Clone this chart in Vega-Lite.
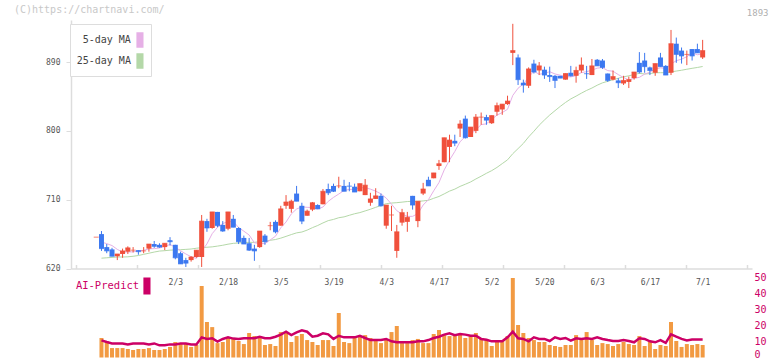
{
  "$schema": "https://vega.github.io/schema/vega-lite/v6.json",
  "width": 681,
  "height": 339,
  "autosize": "none",
  "padding": {"left": 71, "top": 20, "right": 20, "bottom": 2},
  "background": "white",
  "title": {"text": "(C)https://chartnavi.com/", "anchor": "start", "frame": "group", "dx": -57, "dy": 11, "offset": 4, "font": "DejaVu Sans Mono", "fontSize": 10, "fontWeight": "normal", "color": "#c8c8c8"},
  "config": {"view": {"stroke": null}, "axis": {"grid": false, "labelFont": "DejaVu Sans Mono", "labelFlush": false, "labelOverlap": false}},
  "data": {"values": [
    {"t":0,"d":"1/10","o":661,"h":661,"l":661,"c":661},
    {"t":1,"d":"1/14","o":665,"h":669,"l":643,"c":646,"m5":654.6,"m25":633.5,"v":12.2,"ai":10.7},
    {"t":2,"d":"1/15","o":648,"h":652,"l":640,"c":643,"m5":652.5,"m25":634,"v":10.1,"ai":9.7},
    {"t":3,"d":"1/16","o":645,"h":647,"l":636,"c":636,"m5":650,"m25":634.5,"v":5.9,"ai":8.8},
    {"t":4,"d":"1/17","o":636,"h":639,"l":631,"c":639,"m5":645,"m25":635,"v":5.9,"ai":8.8},
    {"t":5,"d":"1/20","o":639,"h":646,"l":634,"c":643,"m5":641.4,"m25":635,"v":5.9,"ai":8.8},
    {"t":6,"d":"1/21","o":642,"h":649,"l":639,"c":647,"m5":641.6,"m25":635.3,"v":5.3,"ai":8.2},
    {"t":7,"d":"1/22","o":644,"h":648,"l":641,"c":644,"m5":641.8,"m25":636,"v":4.7,"ai":8.8},
    {"t":8,"d":"1/23","o":644,"h":644,"l":638,"c":642,"m5":643,"m25":637,"v":5.3,"ai":8.8},
    {"t":9,"d":"1/24","o":643,"h":648,"l":640,"c":643,"m5":643.8,"m25":638.5,"v":5.3,"ai":8.8},
    {"t":10,"d":"1/27","o":646,"h":652,"l":642,"c":652,"m5":645.6,"m25":640,"v":5.9,"ai":8.2},
    {"t":11,"d":"1/28","o":652,"h":656,"l":647,"c":649,"m5":646,"m25":641.5,"v":4.7,"ai":8.8},
    {"t":12,"d":"1/29","o":651,"h":653,"l":647,"c":648,"m5":646.8,"m25":642.8,"v":4.7,"ai":7.6},
    {"t":13,"d":"1/30","o":648,"h":653,"l":644,"c":653,"m5":649,"m25":643.3,"v":5.3,"ai":7.6},
    {"t":14,"d":"1/31","o":657,"h":661,"l":650,"c":655,"m5":651.4,"m25":644,"v":6.6,"ai":8.2},
    {"t":15,"d":"2/3","o":651,"h":651,"l":632,"c":634,"m5":647.8,"m25":644.3,"v":9.7,"ai":8.2},
    {"t":16,"d":"2/4","o":640,"h":642,"l":626,"c":626,"m5":643.2,"m25":644.6,"v":8.4,"ai":8.8},
    {"t":17,"d":"2/5","o":631,"h":634,"l":622,"c":627,"m5":639,"m25":645,"v":9.0,"ai":8.8},
    {"t":18,"d":"2/6","o":631,"h":636,"l":629,"c":635,"m5":635.4,"m25":645.5,"v":6.6,"ai":8.2},
    {"t":19,"d":"2/7","o":635,"h":644,"l":634,"c":644,"m5":633.2,"m25":646.5,"v":7.8,"ai":8.2},
    {"t":20,"d":"2/10","o":635,"h":690,"l":622,"c":682,"m5":642.8,"m25":647.3,"v":44.7,"ai":12.6},
    {"t":21,"d":"2/12","o":682,"h":685,"l":668,"c":673,"m5":652.2,"m25":647.8,"v":22.2,"ai":11.6},
    {"t":22,"d":"2/13","o":673,"h":694,"l":672,"c":694,"m5":665.6,"m25":648.3,"v":19.0,"ai":12.0},
    {"t":23,"d":"2/14","o":694,"h":694,"l":674,"c":676,"m5":673.8,"m25":649.3,"v":9.0,"ai":9.9},
    {"t":24,"d":"2/17","o":677,"h":682,"l":668,"c":669,"m5":678.8,"m25":650.4,"v":9.7,"ai":11.6},
    {"t":25,"d":"2/18","o":672,"h":694,"l":670,"c":694,"m5":681.2,"m25":651.8,"v":12.2,"ai":12.6},
    {"t":26,"d":"2/19","o":685,"h":690,"l":674,"c":674,"m5":681.4,"m25":652.9,"v":11.6,"ai":11.8},
    {"t":27,"d":"2/20","o":673,"h":674,"l":652,"c":655,"m5":673.6,"m25":653.4,"v":10.3,"ai":11.6},
    {"t":28,"d":"2/21","o":660,"h":663,"l":652,"c":652,"m5":668.8,"m25":654.0,"v":8.4,"ai":12.0},
    {"t":29,"d":"2/25","o":653,"h":660,"l":643,"c":644,"m5":663.8,"m25":654.2,"v":15.3,"ai":12.0},
    {"t":30,"d":"2/26","o":646,"h":651,"l":630,"c":643,"m5":653.6,"m25":654.2,"v":13.4,"ai":12.0},
    {"t":31,"d":"2/27","o":648,"h":669,"l":647,"c":669,"m5":652.6,"m25":655.1,"v":12.2,"ai":13.0},
    {"t":32,"d":"2/28","o":663,"h":665,"l":651,"c":655,"m5":652.6,"m25":655.5,"v":7.8,"ai":12.0},
    {"t":33,"d":"3/3","o":676,"h":681,"l":670,"c":676,"m5":657.4,"m25":656.9,"v":8.4,"ai":12.0},
    {"t":34,"d":"3/4","o":681,"h":683,"l":666,"c":668,"m5":662.2,"m25":657.9,"v":7.2,"ai":13.0},
    {"t":35,"d":"3/5","o":676,"h":702,"l":676,"c":698,"m5":673.2,"m25":659.7,"v":15.9,"ai":14.3},
    {"t":36,"d":"3/6","o":702,"h":716,"l":698,"c":707,"m5":680.8,"m25":662.0,"v":15.3,"ai":16.1},
    {"t":37,"d":"3/7","o":698,"h":710,"l":693,"c":708,"m5":691.4,"m25":664.4,"v":9.7,"ai":14.0},
    {"t":38,"d":"3/10","o":718,"h":728,"l":708,"c":708,"m5":697.8,"m25":666.6,"v":13.4,"ai":15.7},
    {"t":39,"d":"3/11","o":702,"h":706,"l":678,"c":682,"m5":700.6,"m25":667.7,"v":14.7,"ai":17.0},
    {"t":40,"d":"3/12","o":689,"h":697,"l":689,"c":695,"m5":700.0,"m25":670.2,"v":10.9,"ai":16.1},
    {"t":41,"d":"3/13","o":697,"h":707,"l":695,"c":706,"m5":699.8,"m25":673.4,"v":9.7,"ai":13.0},
    {"t":42,"d":"3/14","o":703,"h":704,"l":698,"c":698,"m5":697.8,"m25":676.2,"v":7.8,"ai":13.6},
    {"t":43,"d":"3/17","o":704,"h":724,"l":704,"c":721,"m5":700.4,"m25":679.6,"v":10.9,"ai":15.1},
    {"t":44,"d":"3/18","o":724,"h":731,"l":716,"c":719,"m5":707.8,"m25":682.6,"v":10.9,"ai":14.5},
    {"t":45,"d":"3/19","o":728,"h":731,"l":720,"c":721,"m5":713.0,"m25":684.2,"v":7.2,"ai":11.6},
    {"t":46,"d":"3/21","o":728,"h":740,"l":725,"c":728,"m5":717.4,"m25":686.4,"v":27.8,"ai":13.6},
    {"t":47,"d":"3/24","o":728,"h":736,"l":721,"c":721,"m5":722.0,"m25":687.5,"v":9.7,"ai":12.6},
    {"t":48,"d":"3/25","o":728,"h":733,"l":721,"c":727.7,"m5":723.4,"m25":689.6,"v":9.0,"ai":12.6},
    {"t":49,"d":"3/26","o":727,"h":731,"l":720,"c":720,"m5":723.6,"m25":691.6,"v":12.2,"ai":12.6},
    {"t":50,"d":"3/27","o":721,"h":731,"l":721,"c":731,"m5":725.6,"m25":693.1,"v":13.4,"ai":13.6},
    {"t":51,"d":"3/28","o":716,"h":737,"l":716,"c":729,"m5":725.8,"m25":695.3,"v":14.0,"ai":12.2},
    {"t":52,"d":"3/31","o":706,"h":719,"l":702,"c":711,"m5":723.8,"m25":697.5,"v":12.2,"ai":10.9},
    {"t":53,"d":"4/1","o":711,"h":725,"l":711,"c":715,"m5":721.2,"m25":700.0,"v":10.3,"ai":10.9},
    {"t":54,"d":"4/2","o":715,"h":718,"l":701,"c":702,"m5":717.6,"m25":702.4,"v":9.0,"ai":10.9},
    {"t":55,"d":"4/3","o":676,"h":703,"l":672,"c":703,"m5":712.0,"m25":704.8,"v":11.6,"ai":11.6},
    {"t":56,"d":"4/4","o":690,"h":702,"l":669,"c":690,"m5":704.2,"m25":705.6,"v":15.9,"ai":10.1},
    {"t":57,"d":"4/7","o":643,"h":677,"l":634,"c":668,"m5":695.6,"m25":706.1,"v":19.7,"ai":9.5},
    {"t":58,"d":"4/8","o":680,"h":698,"l":676,"c":693,"m5":691.2,"m25":706.8,"v":9.0,"ai":9.5},
    {"t":59,"d":"4/9","o":681,"h":694,"l":668,"c":687,"m5":688.2,"m25":707.6,"v":9.0,"ai":9.5},
    {"t":60,"d":"4/10","o":715,"h":715,"l":697,"c":703,"m5":688.2,"m25":707.8,"v":10.9,"ai":9.5},
    {"t":61,"d":"4/11","o":682,"h":708,"l":674,"c":708,"m5":691.8,"m25":707.8,"v":11.6,"ai":10.1},
    {"t":62,"d":"4/14","o":718,"h":732,"l":716,"c":724,"m5":703.0,"m25":708.4,"v":9.0,"ai":10.1},
    {"t":63,"d":"4/15","o":736,"h":740,"l":728,"c":728,"m5":710.0,"m25":709.2,"v":9.0,"ai":10.9},
    {"t":64,"d":"4/16","o":738,"h":745,"l":738,"c":745,"m5":721.6,"m25":711.8,"v":14.7,"ai":12.2},
    {"t":65,"d":"4/17","o":754,"h":762,"l":749,"c":757,"m5":732.4,"m25":714.2,"v":17.2,"ai":13.0},
    {"t":66,"d":"4/18","o":759,"h":791,"l":759,"c":791,"m5":749.0,"m25":717.6,"v":14.7,"ai":14.3},
    {"t":67,"d":"4/21","o":779,"h":795,"l":759,"c":788,"m5":761.8,"m25":721.2,"v":13.4,"ai":15.1},
    {"t":68,"d":"4/22","o":787,"h":795,"l":780,"c":784,"m5":773.0,"m25":723.8,"v":14.0,"ai":14.0},
    {"t":69,"d":"4/23","o":803,"h":814,"l":792,"c":809,"m5":785.8,"m25":727.4,"v":14.7,"ai":14.7},
    {"t":70,"d":"4/24","o":816,"h":820,"l":790,"c":791,"m5":792.6,"m25":730.2,"v":12.2,"ai":14.3},
    {"t":71,"d":"4/25","o":792,"h":805,"l":792,"c":805,"m5":795.4,"m25":733.2,"v":13.4,"ai":13.6},
    {"t":72,"d":"4/28","o":800,"h":822,"l":797,"c":818,"m5":801.4,"m25":737.1,"v":15.3,"ai":13.6},
    {"t":73,"d":"4/30","o":818,"h":824,"l":808,"c":818,"m5":808.2,"m25":740.7,"v":11.6,"ai":11.6},
    {"t":74,"d":"5/1","o":818,"h":821,"l":808,"c":814,"m5":809.2,"m25":744.5,"v":11.6,"ai":11.1},
    {"t":75,"d":"5/2","o":810,"h":820,"l":809,"c":820,"m5":815.0,"m25":748.0,"v":7.2,"ai":10.1},
    {"t":76,"d":"5/7","o":825,"h":837,"l":820,"c":833,"m5":820.6,"m25":752.2,"v":10.3,"ai":10.1},
    {"t":77,"d":"5/8","o":828,"h":835,"l":821,"c":835,"m5":824.0,"m25":757.2,"v":10.3,"ai":10.1},
    {"t":78,"d":"5/9","o":835,"h":846,"l":834,"c":839,"m5":828.2,"m25":762.1,"v":13.4,"ai":12.6},
    {"t":79,"d":"5/12","o":902,"h":940,"l":886,"c":905,"m5":846.4,"m25":770.2,"v":49.7,"ai":16.1},
    {"t":80,"d":"5/13","o":896,"h":900,"l":860,"c":867,"m5":855.8,"m25":776.8,"v":20.3,"ai":12.0},
    {"t":81,"d":"5/14","o":863,"h":867,"l":850,"c":860,"m5":861.2,"m25":783.6,"v":15.3,"ai":11.6},
    {"t":82,"d":"5/15","o":859,"h":883,"l":856,"c":881,"m5":870.4,"m25":792.1,"v":12.2,"ai":10.1},
    {"t":83,"d":"5/16","o":888,"h":893,"l":875,"c":877,"m5":878.0,"m25":799.5,"v":10.9,"ai":12.6},
    {"t":84,"d":"5/19","o":879,"h":890,"l":873,"c":885,"m5":874.0,"m25":807.4,"v":9.7,"ai":11.6},
    {"t":85,"d":"5/20","o":880,"h":884,"l":868,"c":873,"m5":875.2,"m25":814.2,"v":9.7,"ai":11.6},
    {"t":86,"d":"5/21","o":873,"h":884,"l":864,"c":871,"m5":877.4,"m25":820.7,"v":7.8,"ai":10.3},
    {"t":87,"d":"5/22","o":872,"h":873,"l":856,"c":866,"m5":874.4,"m25":826.4,"v":7.2,"ai":12.6},
    {"t":88,"d":"5/23","o":872,"h":872,"l":869,"c":869,"m5":872.8,"m25":832.0,"v":6.6,"ai":11.6},
    {"t":89,"d":"5/26","o":867,"h":875,"l":867,"c":875,"m5":870.8,"m25":837.2,"v":7.8,"ai":12.2},
    {"t":90,"d":"5/27","o":876,"h":885,"l":871,"c":872,"m5":870.6,"m25":841.8,"v":7.8,"ai":10.5},
    {"t":91,"d":"5/28","o":872,"h":884,"l":863,"c":879,"m5":872.2,"m25":845.4,"v":14.0,"ai":12.0},
    {"t":92,"d":"5/29","o":879,"h":896,"l":876,"c":886,"m5":876.2,"m25":849.3,"v":10.9,"ai":11.6},
    {"t":93,"d":"5/30","o":875,"h":885,"l":868,"c":874.7,"m5":877.4,"m25":852.9,"v":15.9,"ai":12.0},
    {"t":94,"d":"6/2","o":873,"h":894,"l":873,"c":885,"m5":879.4,"m25":856.0,"v":10.9,"ai":11.6},
    {"t":95,"d":"6/3","o":893,"h":894,"l":885,"c":885,"m5":882.0,"m25":859.7,"v":7.8,"ai":12.6},
    {"t":96,"d":"6/4","o":892,"h":894,"l":881,"c":883,"m5":882.8,"m25":862.8,"v":9.0,"ai":11.6},
    {"t":97,"d":"6/5","o":875,"h":875,"l":864,"c":866,"m5":878.8,"m25":864.8,"v":8.4,"ai":10.9},
    {"t":98,"d":"6/6","o":867,"h":879,"l":866,"c":871,"m5":878.0,"m25":866.9,"v":7.2,"ai":10.3},
    {"t":99,"d":"6/9","o":866,"h":869,"l":856,"c":863,"m5":873.6,"m25":868.8,"v":8.4,"ai":10.3},
    {"t":100,"d":"6/10","o":862,"h":872,"l":860,"c":866,"m5":869.8,"m25":870.7,"v":9.7,"ai":10.9},
    {"t":101,"d":"6/11","o":864,"h":871,"l":856,"c":867,"m5":866.6,"m25":872.0,"v":8.4,"ai":10.3},
    {"t":102,"d":"6/12","o":869,"h":877,"l":867,"c":877,"m5":868.8,"m25":873.7,"v":7.8,"ai":9.5},
    {"t":103,"d":"6/13","o":889,"h":903,"l":875,"c":877,"m5":870.0,"m25":875.2,"v":13.4,"ai":12.0},
    {"t":104,"d":"6/16","o":892,"h":902,"l":876,"c":884,"m5":874.2,"m25":874.4,"v":7.2,"ai":11.6},
    {"t":105,"d":"6/17","o":883,"h":884,"l":873,"c":879,"m5":876.8,"m25":874.9,"v":9.7,"ai":10.1},
    {"t":106,"d":"6/18","o":876,"h":888,"l":872,"c":888,"m5":881.0,"m25":876.0,"v":5.3,"ai":9.5},
    {"t":107,"d":"6/19","o":896,"h":902,"l":884,"c":884,"m5":882.4,"m25":876.1,"v":7.8,"ai":10.9},
    {"t":108,"d":"6/20","o":885,"h":886,"l":873,"c":873,"m5":881.6,"m25":876.0,"v":7.2,"ai":9.1},
    {"t":109,"d":"6/23","o":876,"h":932,"l":873,"c":914,"m5":887.6,"m25":877.1,"v":22.2,"ai":14.5},
    {"t":110,"d":"6/24","o":914,"h":922,"l":889,"c":900,"m5":891.8,"m25":878.2,"v":10.3,"ai":13.0},
    {"t":111,"d":"6/25","o":905,"h":909,"l":888,"c":898,"m5":893.8,"m25":879.3,"v":6.6,"ai":11.6},
    {"t":112,"d":"6/26","o":900,"h":905,"l":886,"c":900,"m5":897.0,"m25":880.6,"v":8.4,"ai":10.7},
    {"t":113,"d":"6/27","o":907,"h":907,"l":892,"c":898,"m5":902.0,"m25":881.8,"v":7.8,"ai":11.3},
    {"t":114,"d":"6/30","o":907,"h":914,"l":902,"c":902,"m5":899.6,"m25":882.9,"v":8.4,"ai":11.3},
    {"t":115,"d":"7/1","o":896,"h":919,"l":894,"c":905,"m5":900.6,"m25":884.2,"v":7.8,"ai":11.3}
  ]},
  "encoding": {
    "x": {"field": "t", "type": "quantitative", "title": null,
      "scale": {"domain": [-3.83, 123.41], "nice": false, "zero": false},
      "axis": {"orient": "bottom", "offset": -90.5,
        "values": [-3.83, 7.737, 19.305, 30.872, 42.439, 54.007, 65.574, 77.141, 88.708, 100.276, 111.843, 123.41, 15, 25, 35, 45, 55, 65, 75, 85, 95, 105, 115],
        "labelExpr": "datum.value==15?'2/3':datum.value==25?'2/18':datum.value==35?'3/5':datum.value==45?'3/19':datum.value==55?'4/3':datum.value==65?'4/17':datum.value==75?'5/2':datum.value==85?'5/20':datum.value==95?'6/3':datum.value==105?'6/17':datum.value==115?'7/1':''",
        "tickSize": -4, "labelPadding": 14,
        "tickOpacity": {"condition": {"test": "datum.value % 5 === 0", "value": 0}, "value": 1},
        "domainColor": "#dddddd", "domainWidth": 1.5, "tickColor": "#dddddd", "tickWidth": 1.5,
        "labelFont": "DejaVu Sans Mono", "labelFontSize": 8, "labelColor": "#555555",
        "labelOverlap": false, "labelFlush": false, "labelBound": false, "grid": false}
    }
  },
  "layer": [
    {"layer": [
      {"mark": {"type": "line"},
       "encoding": {
         "y": {"field": "m25", "type": "quantitative", "title": null, "scale": {"domain": [620, 945], "range": [248.5, 0], "nice": false, "zero": false},
           "axis": {"orient": "left", "values": [620, 710, 800, 890], "tickSize": 5, "labelPadding": 6, "domainColor": "#dddddd", "domainWidth": 1.5, "tickColor": "#dddddd", "labelFont": "DejaVu Sans Mono", "labelFontSize": 8, "labelColor": "#555555", "grid": false}},
         "strokeWidth": {"value": 1},
         "color": {"datum": "25-day MA", "scale": {"domain": ["5-day MA", "25-day MA"], "range": ["#e6b0e6", "#b4d8a8"]},
           "legend": {"orient": "none", "legendX": -1, "legendY": 4, "title": null, "padding": 5, "strokeColor": "#dddddd", "fillColor": "#ffffff",
             "labelFont": "DejaVu Sans Mono", "labelFontSize": 10, "labelColor": "#444444", "labelAlign": "right", "labelOffset": -20.05, "symbolOffset": 53.95,
             "symbolType": "M-0.3,-0.77V0.77M-0.2,-0.77V0.77M-0.1,-0.77V0.77M0,-0.77V0.77M0.1,-0.77V0.77M0.2,-0.77V0.77M0.3,-0.77V0.77", "symbolSize": 400, "symbolStrokeWidth": 1.1, "rowPadding": -3}}
       }},
      {"mark": {"type": "line"},
       "encoding": {
         "y": {"field": "m5", "type": "quantitative", "title": null, "scale": {"domain": [620, 945], "range": [248.5, 0], "nice": false, "zero": false},
           "axis": {"orient": "left", "values": [620, 710, 800, 890], "tickSize": 5, "labelPadding": 6, "domainColor": "#dddddd", "domainWidth": 1.5, "tickColor": "#dddddd", "labelFont": "DejaVu Sans Mono", "labelFontSize": 8, "labelColor": "#555555", "grid": false}},
         "strokeWidth": {"value": 1},
         "color": {"datum": "5-day MA"}
       }},
      {"mark": {"type": "rule", "strokeWidth": 1},
       "encoding": {
         "y": {"field": "l", "type": "quantitative", "title": null, "scale": {"domain": [620, 945], "range": [248.5, 0], "nice": false, "zero": false},
           "axis": {"orient": "left", "values": [620, 710, 800, 890], "tickSize": 5, "labelPadding": 6, "domainColor": "#dddddd", "domainWidth": 1.5, "tickColor": "#dddddd", "labelFont": "DejaVu Sans Mono", "labelFontSize": 8, "labelColor": "#555555", "grid": false}},
         "y2": {"field": "h"},
         "color": {"condition": {"test": "datum.c >= datum.o", "value": "#f0503c"}, "value": "#3c78f0"}
       }},
      {"mark": {"type": "bar", "width": 5},
       "encoding": {
         "y": {"field": "o", "type": "quantitative", "title": null, "scale": {"domain": [620, 945], "range": [248.5, 0], "nice": false, "zero": false},
           "axis": {"orient": "left", "values": [620, 710, 800, 890], "tickSize": 5, "labelPadding": 6, "domainColor": "#dddddd", "domainWidth": 1.5, "tickColor": "#dddddd", "labelFont": "DejaVu Sans Mono", "labelFontSize": 8, "labelColor": "#555555", "grid": false}},
         "y2": {"field": "c"},
         "color": {"condition": {"test": "datum.c >= datum.o", "value": "#f0503c"}, "value": "#3c78f0"}
       }},
      {"mark": {"type": "tick", "orient": "horizontal", "size": 5, "thickness": 1},
       "encoding": {
         "y": {"field": "c", "type": "quantitative", "title": null, "scale": {"domain": [620, 945], "range": [248.5, 0], "nice": false, "zero": false},
           "axis": {"orient": "left", "values": [620, 710, 800, 890], "tickSize": 5, "labelPadding": 6, "domainColor": "#dddddd", "domainWidth": 1.5, "tickColor": "#dddddd", "labelFont": "DejaVu Sans Mono", "labelFontSize": 8, "labelColor": "#555555", "grid": false}},
         "color": {"condition": {"test": "datum.c >= datum.o", "value": "#f0503c"}, "value": "#3c78f0"}
       }}
    ]},
    {"layer": [
      {"mark": {"type": "bar", "width": 4, "color": "#f29a42"},
       "encoding": {
         "y": {"field": "v", "type": "quantitative", "title": "1893", "scale": {"domain": [0, 50], "range": [337.5, 257.5], "nice": false, "zero": false},
           "axis": {"orient": "right", "values": [0, 10, 20, 30, 40, 50], "domain": false, "ticks": false, "labelPadding": 2, "labelAlign": "left",
             "labelBaseline": {"condition": {"test": "datum.value === 0", "value": "alphabetic"}, "value": "middle"},
             "labelColor": "#cc0066", "labelFont": "DejaVu Sans Mono", "labelFontSize": 10, "grid": false,
             "title": "1893", "titleAngle": 0, "titleX": 16, "titleY": -8, "titleAlign": "right", "titleBaseline": "middle", "titleColor": "#b0b0b0", "titleFont": "DejaVu Sans Mono", "titleFontSize": 9, "titleFontWeight": "normal"}}
       }},
      {"mark": {"type": "line"},
       "encoding": {
         "y": {"field": "ai", "type": "quantitative", "title": "1893", "scale": {"domain": [0, 50], "range": [337.5, 257.5], "nice": false, "zero": false},
           "axis": {"orient": "right", "values": [0, 10, 20, 30, 40, 50], "domain": false, "ticks": false, "labelPadding": 2, "labelAlign": "left",
             "labelBaseline": {"condition": {"test": "datum.value === 0", "value": "alphabetic"}, "value": "middle"},
             "labelColor": "#cc0066", "labelFont": "DejaVu Sans Mono", "labelFontSize": 10, "grid": false,
             "title": "1893", "titleAngle": 0, "titleX": 16, "titleY": -8, "titleAlign": "right", "titleBaseline": "middle", "titleColor": "#b0b0b0", "titleFont": "DejaVu Sans Mono", "titleFontSize": 9, "titleFontWeight": "normal"}},
         "strokeWidth": {"value": 2.5},
         "color": {"datum": "AI-Predict", "scale": {"domain": ["AI-Predict"], "range": ["#cc0066"]},
           "legend": {"orient": "none", "legendX": 4, "legendY": 255, "title": null, "padding": 0,
             "labelFont": "DejaVu Sans Mono", "labelFontSize": 10.5, "labelColor": "#cc0066", "labelAlign": "left", "labelOffset": -82.05, "symbolOffset": 60.95,
             "symbolType": "M-0.3,-0.84V0.84M-0.2,-0.84V0.84M-0.1,-0.84V0.84M0,-0.84V0.84M0.1,-0.84V0.84M0.2,-0.84V0.84M0.3,-0.84V0.84", "symbolSize": 400, "symbolStrokeWidth": 1.1}}
       }}
    ]}
  ],
  "resolve": {"scale": {"y": "independent", "color": "independent"}}
}
